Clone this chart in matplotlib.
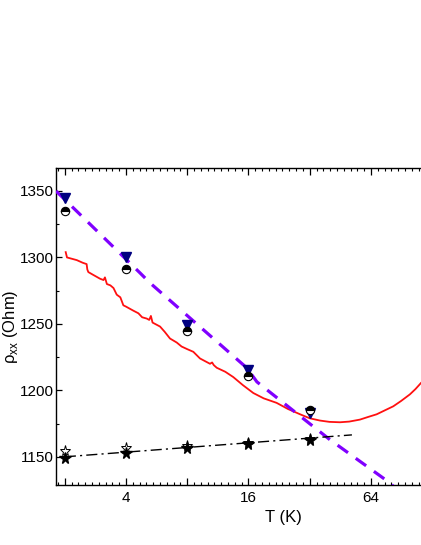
import matplotlib
matplotlib.use("Agg")
import matplotlib.pyplot as plt
import numpy as np
from matplotlib.ticker import FixedLocator, NullFormatter, FuncFormatter

plt.rcParams['font.family'] = ['Liberation Sans', 'DejaVu Sans']
plt.rcParams['mathtext.fontset'] = 'custom'
plt.rcParams['mathtext.rm'] = 'Liberation Sans'

# measured points
T_pts = [2, 4, 8, 16, 32]
rho_tri = [1345, 1300, 1249, 1215, 1183]
rho_half = [1335, 1291, 1245, 1211, 1185]
rho_star = [1149, 1153, 1157, 1160, 1163]
rho_star_open = [1154.5, 1157, 1158.5, 1160.5, 1163.5]

# continuous R(T) curve
T_curve = [2.02, 2.05, 2.29, 2.45, 2.56, 2.58, 2.61, 2.75, 2.98, 3.1, 3.15, 3.22,
           3.35, 3.47, 3.6, 3.75, 3.88, 4.0, 4.34, 4.6, 4.8, 5.06, 5.2, 5.3, 5.4,
           5.88, 6.2, 6.58, 7.1, 7.5, 8.0, 8.57, 9.24, 10.35, 10.6, 10.8, 11.17,
           12.3, 13.47, 15, 16.9, 19, 22, 25, 28.7, 32, 35.9, 40, 45.1, 50, 56.5,
           62, 68.3, 75, 82.4, 90, 99.5, 106, 112.7]
rho_curve = [1304, 1300, 1298, 1296, 1295, 1291, 1289, 1287, 1284, 1283, 1285, 1280,
             1279, 1277, 1272, 1270, 1264, 1263, 1260, 1258, 1255, 1254, 1253, 1256, 1251,
             1248, 1244, 1239, 1236, 1233, 1231, 1229, 1224, 1220, 1221, 1219, 1217,
             1214, 1210, 1204, 1198, 1194, 1190.6, 1186, 1182, 1179, 1177.3, 1176.3, 1176, 1176.5, 1178,
             1180, 1182, 1185, 1188, 1192, 1197, 1201, 1205.5]

# fit lines
T_fit1 = [1.81, 4.69, 5.25, 15.7, 17.6, 40.3, 79.3, 90]
rho_fit1 = [1350, 1288.3, 1280.8, 1216.9, 1206.4, 1162.8, 1130.4, 1122]
T_fit2 = [2, 51.6]
rho_fit2 = [1150, 1166.5]

fig = plt.figure(figsize=(4.21, 5.45), dpi=100)
ax = fig.add_axes([56/421, 1-485/545, 454/421, (485-168)/545])

ax.plot(T_curve, rho_curve, color='#ff1010', lw=1.3, zorder=2)
ax.plot(T_fit1, rho_fit1, color='#8000ff', lw=2.3, dashes=(4, 3), zorder=3)
ax.plot(T_fit2, rho_fit2, color='black', lw=1.0, dashes=(8, 3, 1.5, 3), zorder=3)

ax.plot(T_pts, rho_tri, 'v', color='#000080', ms=7, ls='none', zorder=4)
ax.plot(T_pts, rho_half, 'o', ms=6, ls='none', fillstyle='top',
        markerfacecolor='black', markerfacecoloralt='white',
        markeredgecolor='black', markeredgewidth=0.8, zorder=5)
ax.plot(T_pts, rho_star_open, '*', ms=8, ls='none', markerfacecolor='white',
        markeredgecolor='black', markeredgewidth=0.7, zorder=4)
ax.plot(T_pts, rho_star, '*', ms=8.5, ls='none', color='black', zorder=5)

ax.set_xscale('log', base=2)
ax.set_xlim(1.81, 309)
ax.set_ylim(1128.8, 1367.3)

majors = [2**k for k in range(0, 10)]
ax.xaxis.set_major_locator(FixedLocator(majors))
ax.xaxis.set_major_formatter(FuncFormatter(lambda v, p: '%d' % v if v in (4, 16, 64) else ''))
minors = [2**(k + j/9) for k in range(0, 10) for j in range(1, 9)]
ax.xaxis.set_minor_locator(FixedLocator(minors))
ax.xaxis.set_minor_formatter(NullFormatter())

ax.set_yticks([1150, 1200, 1250, 1300, 1350])
ax.yaxis.set_minor_locator(FixedLocator([1125, 1175, 1225, 1275, 1325, 1375]))

ax.tick_params(which='both', direction='in', top=True, right=False, labelsize=11)
ax.tick_params(axis='x', which='major', length=5, width=0.9, pad=4)
ax.tick_params(axis='x', which='minor', length=2.5, width=0.8)
ax.tick_params(axis='y', which='major', length=4, width=0.9, pad=1.5)
ax.tick_params(axis='y', which='minor', length=2.5, width=0.8)
for s in ax.spines.values():
    s.set_linewidth(1.0)

ax.set_xlabel('T (K)', fontsize=12, labelpad=4)
ax.set_ylabel('ρ$_{\\mathrm{xx}}$ (Ohm)', fontsize=12)
ax.yaxis.set_label_coords(-36/454, 0.5)

fig.savefig('out.png', dpi=100)
